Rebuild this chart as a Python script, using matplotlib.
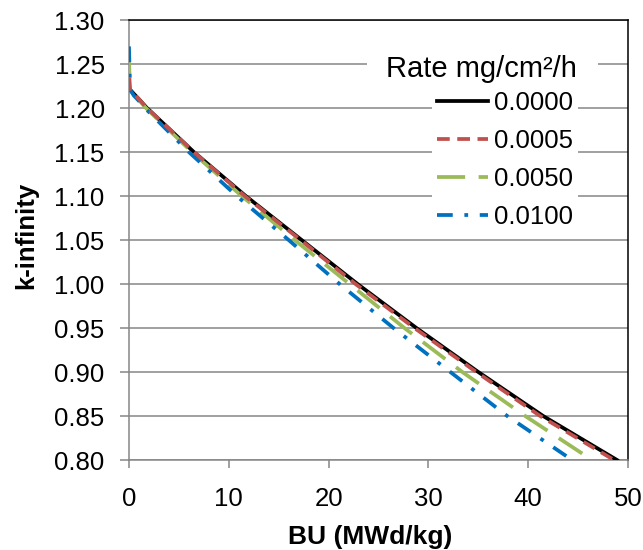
#!/usr/bin/env python3
"""k-infinity versus burnup for several corrosion rates."""

import matplotlib
matplotlib.use("Agg")
import matplotlib.pyplot as plt
from matplotlib.patches import Rectangle

plt.rcParams['font.family'] = ['Liberation Sans', 'DejaVu Sans']

# values
rate_labels = ['0.0000', '0.0005', '0.0050', '0.0100']

bu_0000 = [0, 0.1, 0.5, 1.0, 1.8, 6.5, 11.7, 17.3, 22.9, 28.8, 35.0, 41.5, 48.9]
k_0000 = [1.226, 1.221, 1.216, 1.210, 1.20, 1.15, 1.10, 1.05, 1.00, 0.95, 0.90, 0.85, 0.80]

bu_0005 = [0, 0.1, 0.5, 1.0, 1.8, 6.5, 11.6, 17.2, 22.7, 28.6, 34.8, 41.2, 48.6]
k_0005 = [1.234, 1.221, 1.216, 1.210, 1.20, 1.15, 1.10, 1.05, 1.00, 0.95, 0.90, 0.85, 0.80]

bu_0050 = [0, 0.1, 0.5, 1.0, 1.7, 6.3, 11.3, 16.6, 22.1, 27.6, 33.4, 39.7, 46.4]
k_0050 = [1.254, 1.221, 1.215, 1.209, 1.20, 1.15, 1.10, 1.05, 1.00, 0.95, 0.90, 0.85, 0.80]

bu_0100 = [0, 0.1, 0.5, 1.0, 1.6, 6.0, 10.8, 16.0, 21.1, 26.5, 32.2, 37.9, 44.4]
k_0100 = [1.270, 1.221, 1.214, 1.208, 1.20, 1.15, 1.10, 1.05, 1.00, 0.95, 0.90, 0.85, 0.80]

y_ticks = [0.80, 0.85, 0.90, 0.95, 1.00, 1.05, 1.10, 1.15, 1.20, 1.25, 1.30]
x_ticks = [0, 10, 20, 30, 40, 50]

FS = 18.5
GRAY = '#868686'

fig = plt.figure(figsize=(6.43, 5.5), dpi=100)
ax = fig.add_axes([0.2006, 0.1636, 0.7761, 0.8])

lw = 2.7
ax.plot(bu_0000, k_0000, color='black', lw=lw, label=rate_labels[0], zorder=3)
ax.plot(bu_0005, k_0005, color='#C0504D', lw=lw, label=rate_labels[1], zorder=4,
        dashes=(3.4, 2.0), dash_capstyle='butt')
ax.plot(bu_0050, k_0050, color='#9BBB59', lw=lw, label=rate_labels[2], zorder=3,
        dashes=(7.5, 3.6), dash_capstyle='butt')
ax.plot(bu_0100, k_0100, color='#0070C0', lw=lw, label=rate_labels[3], zorder=3,
        dashes=(4.2, 3.1, 1.0, 3.1), dash_capstyle='butt')

ax.set_xlim(0, 50)
ax.set_ylim(0.80, 1.30)
ax.set_xticks(x_ticks)
ax.set_yticks(y_ticks)
ax.set_yticklabels(['%.2f' % v for v in y_ticks])
ax.yaxis.grid(True, color=GRAY, lw=1.1)
ax.set_axisbelow(True)

for side in ['left', 'bottom']:
    ax.spines[side].set_color(GRAY)
    ax.spines[side].set_linewidth(1.1)
for side in ['top', 'right']:
    ax.spines[side].set_color('black')
    ax.spines[side].set_linewidth(1.1)

ax.tick_params(axis='both', direction='out', color=GRAY, width=1.1, labelsize=FS)
ax.tick_params(axis='y', length=6.5, pad=11)
ax.tick_params(axis='x', length=5.5, pad=14)

ax.set_xlabel('BU (MWd/kg)', fontsize=FS + 0.5, fontweight='bold', labelpad=10)
ax.set_ylabel('k-infinity', fontsize=FS, fontweight='bold', labelpad=12)
ax.xaxis.label.set_x(0.484)
ax.yaxis.label.set_y(0.511)

leg = ax.legend(loc='upper left', bbox_to_anchor=(0.607, 0.85), fontsize=FS,
                frameon=True, fancybox=False, framealpha=1, facecolor='white',
                edgecolor='none', handlelength=2.0, handletextpad=0.2,
                labelspacing=0.54, borderpad=0.2, borderaxespad=0)
leg.set_zorder(5)

# white strip behind the legend title, hides the 1.25 grid line there
ax.add_patch(Rectangle((0.477, 0.852), 0.463, 0.075, transform=ax.transAxes,
                       facecolor='white', edgecolor='none', zorder=2))
ax.text(0.707, 0.888, 'Rate mg/cm\u00b2/h', transform=ax.transAxes, fontsize=21,
        ha='center', va='center', zorder=6)

fig.savefig('out.png', dpi=100)
